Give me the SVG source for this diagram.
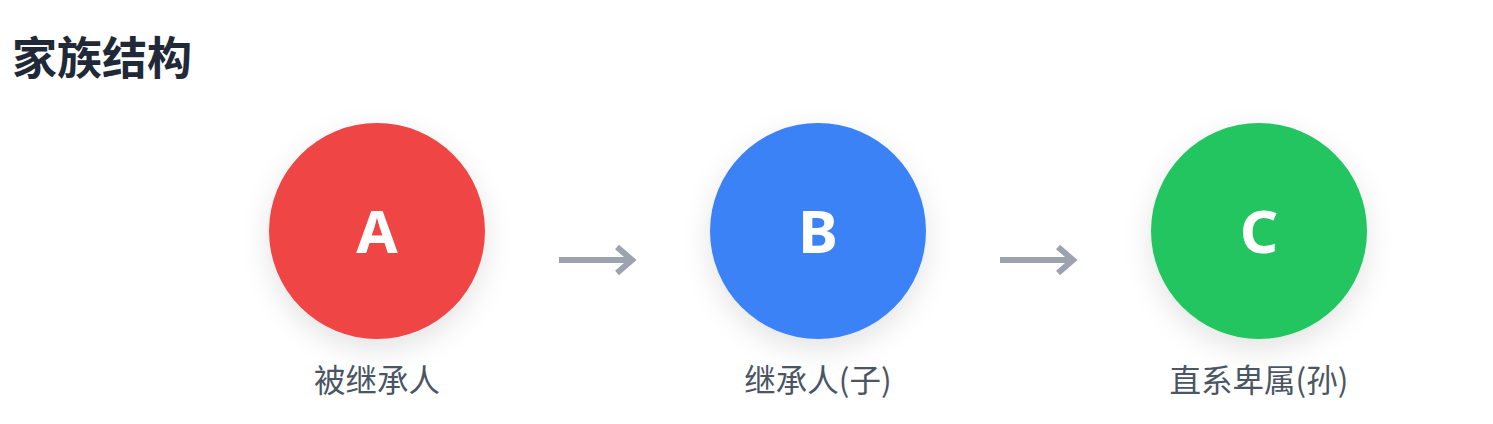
<svg xmlns="http://www.w3.org/2000/svg" width="1493" height="424" viewBox="0 0 1493 424">
<defs>
<filter id="sh" x="-40%" y="-40%" width="180%" height="190%">
<feDropShadow dx="0" dy="10" stdDeviation="14" flood-color="#000" flood-opacity="0.11"/>
</filter>
</defs>
<style>
.title{font-family:"Noto Sans CJK SC","Noto Sans",sans-serif;font-weight:700;font-size:45px;fill:#1f2937}
.letter{font-family:"Noto Sans","Open Sans",sans-serif;font-weight:700;font-size:60px;fill:#ffffff;text-anchor:middle}
.label{font-family:"Noto Sans CJK SC","Noto Sans",sans-serif;font-size:31.5px;fill:#4b5563;text-anchor:middle}
.arrow{fill:none;stroke:#9ca3af;stroke-width:6}
</style>
<rect width="1493" height="424" fill="#ffffff"/>
<text class="title" x="12" y="75">家族结构</text>
<g id="node-a">
<circle cx="377" cy="231" r="108" fill="#ef4444" filter="url(#sh)"/>
<text class="letter" x="377" y="253">A</text>
<text class="label" x="377" y="392">被继承人</text>
</g>
<g id="node-b">
<circle cx="818" cy="231" r="108" fill="#3b82f6" filter="url(#sh)"/>
<text class="letter" x="818" y="253">B</text>
<text class="label" x="818" y="392">继承人(子)</text>
</g>
<g id="node-c">
<circle cx="1259" cy="231" r="108" fill="#22c55e" filter="url(#sh)"/>
<text class="letter" x="1259" y="253">C</text>
<text class="label" x="1259" y="392">直系卑属(孙)</text>
</g>
<g id="connectors">
<path class="arrow" d="M559 260 H630 M617 247 L632 260 L617 273"/>
<path class="arrow" d="M1000 260 H1071 M1058 247 L1073 260 L1058 273"/>
</g>
</svg>
